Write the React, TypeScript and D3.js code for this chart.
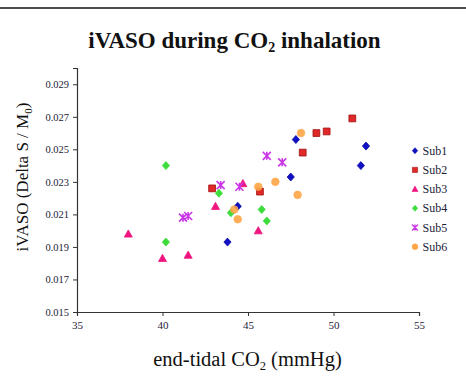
import { useEffect, useRef } from "react";
import * as d3 from "d3";

const W = 466;
const H = 377;
const SERIF = "'Liberation Serif', 'Times New Roman', serif";

// end-tidal CO2 (mmHg) / iVASO (Delta S / M0), per subject
const sub1 = [[44.4, 0.0215], [43.8, 0.0193], [47.8, 0.0256], [51.9, 0.0252], [51.6, 0.0240], [47.5, 0.0233]];
const sub2 = [[42.9, 0.0226], [45.7, 0.0224], [51.1, 0.0269], [49.0, 0.0260], [49.6, 0.0261], [48.2, 0.0248]];
const sub3 = [[44.7, 0.0229], [43.1, 0.0215], [45.6, 0.0200], [38.0, 0.0198], [40.0, 0.0183], [41.5, 0.0185]];
const sub4 = [[40.2, 0.0240], [43.3, 0.0223], [44.0, 0.0211], [45.8, 0.0213], [46.1, 0.0206], [40.2, 0.0193]];
const sub5 = [[46.1, 0.0246], [47.0, 0.0242], [43.4, 0.0228], [44.5, 0.0227], [41.2, 0.0208], [41.5, 0.0209]];
const sub6 = [[45.6, 0.0227], [46.6, 0.0230], [44.2, 0.0213], [44.4, 0.0207], [48.1, 0.0260], [47.9, 0.0222]];

const subjects = ["Sub1", "Sub2", "Sub3", "Sub4", "Sub5", "Sub6"];
const seriesData = [sub1, sub2, sub3, sub4, sub5, sub6];
const xTicks = [35, 40, 45, 50, 55];
const yTicks = [0.015, 0.017, 0.019, 0.021, 0.023, 0.025, 0.027, 0.029];

const COLORS = ["#1010C8", "#E02828", "#F0157E", "#3CDC3C", "#C936E8", "#FFA545"];
const STROKES = ["#0A0A9A", "#A01010", "#F0157E", "#3CDC3C", "#C936E8", "#FFA545"];

// marker path centred on 0,0, r = half size
function markerPath(kind: number, r: number): string {
  switch (kind) {
    case 0:
    case 3:
      return `M0,${-r}L${r * 0.9},0L0,${r}L${-r * 0.9},0Z`;
    case 1:
      return `M${-r * 0.85},${-r * 0.85}h${r * 1.7}v${r * 1.7}h${-r * 1.7}Z`;
    case 2:
      return `M0,${-r}L${r},${r * 0.8}L${-r},${r * 0.8}Z`;
    case 4:
      return `M${-r},${-r}L${r},${r}M${r},${-r}L${-r},${r}M0,${-r}L0,${r}`;
    default:
      return d3.arc()({ innerRadius: 0, outerRadius: r * 0.95, startAngle: 0, endAngle: 2 * Math.PI }) || "";
  }
}

export default function App() {
  const svgRef = useRef<SVGSVGElement>(null);

  useEffect(() => {
    if (!svgRef.current) return;
    const svg = d3.select(svgRef.current);
    svg.selectAll("*").remove();

    const x = d3.scaleLinear().domain([35, 55]).range([77, 419]);
    const y = d3.scaleLinear().domain([0.015, 0.03]).range([312, 68]);

    // page rule at the top
    svg.append("line").attr("x1", 0).attr("x2", W).attr("y1", 8).attr("y2", 8)
      .attr("stroke", "#111").attr("stroke-width", 1.5);

    // title
    const title = svg.append("text").attr("x", 234.5).attr("y", 48)
      .attr("text-anchor", "middle").attr("font-family", SERIF)
      .attr("font-size", 23).attr("font-weight", 700).attr("fill", "#111");
    title.append("tspan").text("iVASO during CO");
    title.append("tspan").attr("font-size", 14).attr("dy", 4).text("2");
    title.append("tspan").attr("dy", -4).text(" inhalation");

    // axes
    const axisColor = "#333";
    const gx = svg.append("g").attr("transform", `translate(0,${y(0.015)})`)
      .call(d3.axisBottom(x).tickValues(xTicks).tickSize(4).tickPadding(5).tickFormat(d3.format("d")));
    gx.select(".domain").attr("stroke", axisColor).attr("stroke-width", 1.2);
    gx.selectAll("line").attr("stroke", axisColor);
    gx.selectAll("text").attr("font-family", SERIF).attr("font-size", 11).attr("fill", "#1c1c38");

    const gy = svg.append("g").attr("transform", `translate(${x(35)},0)`)
      .call(d3.axisLeft(y).tickValues(yTicks).tickSize(4).tickPadding(4).tickFormat(d3.format(".3f")));
    gy.select(".domain").attr("stroke", axisColor).attr("stroke-width", 1.2);
    gy.selectAll("line").attr("stroke", axisColor);
    gy.selectAll("text").attr("font-family", SERIF).attr("font-size", 10.5).attr("fill", "#1c1c38");

    // axis titles
    const xl = svg.append("text").attr("x", 247.5).attr("y", 365.5)
      .attr("text-anchor", "middle").attr("font-family", SERIF)
      .attr("font-size", 20.5).attr("fill", "#111");
    xl.append("tspan").text("end-tidal CO");
    xl.append("tspan").attr("font-size", 12.5).attr("dy", 4).text("2");
    xl.append("tspan").attr("dy", -4).text(" (mmHg)");

    const yl = svg.append("text").attr("transform", `translate(28,177) rotate(-90)`)
      .attr("text-anchor", "middle").attr("font-family", SERIF)
      .attr("font-size", 17).attr("fill", "#111");
    yl.append("tspan").text("iVASO  (Delta S / M");
    yl.append("tspan").attr("font-size", 11).attr("dy", 4).text("0");
    yl.append("tspan").attr("dy", -4).text(")");

    // points
    seriesData.forEach((pts, i) => {
      svg.append("g").selectAll("path").data(pts).join("path")
        .attr("transform", d => `translate(${x(d[0])},${y(d[1])})`)
        .attr("d", markerPath(i, 4))
        .attr("fill", i === 4 ? "none" : COLORS[i])
        .attr("stroke", STROKES[i])
        .attr("stroke-width", i === 4 ? 1.6 : 0.8)
        .attr("opacity", i === 5 ? 0.9 : 1);
    });

    // legend
    const leg = d3.scalePoint<string>().domain(subjects).range([150.7, 246.7]);
    subjects.forEach((s, i) => {
      const cy = leg(s)!;
      svg.append("path").attr("transform", `translate(415,${cy})`)
        .attr("d", markerPath(i, 3))
        .attr("fill", i === 4 ? "none" : COLORS[i])
        .attr("stroke", STROKES[i])
        .attr("stroke-width", i === 4 ? 1.3 : 0.6);
      svg.append("text").attr("x", 422.5).attr("y", cy + 4)
        .attr("font-family", SERIF).attr("font-size", 12).attr("fill", "#1c1c38")
        .text(s);
    });
  }, []);

  return (
    <svg ref={svgRef} width={W} height={H}
      style={{ position: "absolute", left: 0, top: 0, background: "#fff" }} />
  );
}
